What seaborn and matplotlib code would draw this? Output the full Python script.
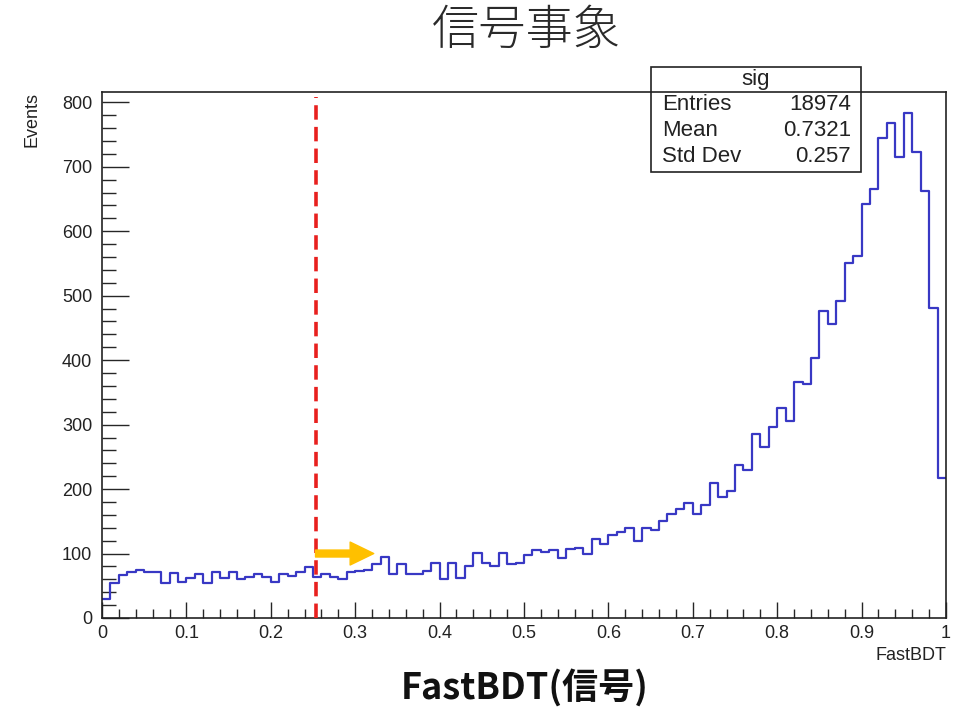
import numpy as np
import pandas as pd
import matplotlib
matplotlib.use("Agg")
import matplotlib.pyplot as plt
import seaborn as sns
from matplotlib.patches import Rectangle, FancyArrowPatch
from matplotlib.lines import Line2D

# ---------------- data ----------------
n_bins = 100
x_min, x_max = 0.0, 1.0
counts = [
    30, 55, 66, 71, 75, 71, 71, 55, 70, 56, 62, 68, 55, 71, 62, 71, 60, 63, 68, 64, 56, 68, 65, 71, 79,
    63, 68, 63, 60, 72, 73, 75, 83, 95, 68, 84, 68, 68, 73, 85, 60, 85, 62, 81, 101, 86, 81, 101, 83, 86,
    98, 106, 103, 106, 93, 107, 109, 100, 123, 115, 128, 134, 139, 120, 139, 137, 150, 161, 169, 178, 161, 175, 210, 188, 197,
    237, 229, 286, 266, 296, 326, 306, 366, 363, 403, 476, 456, 491, 550, 561, 642, 665, 744, 768, 715, 784, 723, 662, 481, 217,
]
x_ticks = [0, 0.1, 0.2, 0.3, 0.4, 0.5, 0.6, 0.7, 0.8, 0.9, 1.0]
x_ticklabels = ["0", "0.1", "0.2", "0.3", "0.4", "0.5", "0.6", "0.7", "0.8", "0.9", "1"]
y_ticks = [0, 100, 200, 300, 400, 500, 600, 700, 800]
y_ticklabels = ["0", "100", "200", "300", "400", "500", "600", "700", "800"]
title_text = "信号事象"
bottom_text = "FastBDT(信号)"
axis_x_title = "FastBDT"
axis_y_title = "Events"
stats_header = "sig"
stats_names = ["Entries", "Mean", "Std Dev"]
stats_values = ["18974", "0.7321", "0.257"]
cut_value = 0.254
arrow_start, arrow_end, arrow_level = 0.253, 0.322, 100

edges = np.linspace(x_min, x_max, n_bins + 1)
centers = (edges[:-1] + edges[1:]) / 2
df = pd.DataFrame({"FastBDT": centers, "Events": np.asarray(counts, dtype=float)})

# ---------------- style ----------------
sns.set_style("ticks")
plt.rcParams["font.family"] = ["Liberation Sans", "DejaVu Sans"]

W, H = 958, 708
fig = plt.figure(figsize=(W / 100, H / 100), dpi=100)
L, R, T, B = 102, 946, 92, 618
ax = fig.add_axes([L / W, 1 - B / H, (R - L) / W, (B - T) / H])

sns.histplot(data=df, x="FastBDT", weights="Events", bins=n_bins, binrange=(x_min, x_max),
             element="step", fill=False, color="#3838c4", linewidth=1.6, ax=ax)

ax.set_xlim(x_min, x_max)
ax.set_ylim(0, 816)
ax.set_xlabel("")
ax.set_ylabel("")

txtc = "#222222"
ax.set_xticks(x_ticks)
ax.set_xticklabels(x_ticklabels, fontsize=13, color=txtc)
ax.set_yticks(y_ticks)
ax.set_yticklabels(y_ticklabels, fontsize=13, color=txtc)
ax.set_xticks(np.arange(0, 1.0001, 0.02), minor=True)
ax.set_yticks(np.arange(0, 816, 20), minor=True)
ax.tick_params(axis="x", which="major", direction="in", length=11.5, width=1.0, pad=5, top=False)
ax.tick_params(axis="x", which="minor", direction="in", length=6.5, width=1.0, top=False)
ax.tick_params(axis="y", which="major", direction="in", length=19.5, width=1.0, pad=7, right=False)
ax.tick_params(axis="y", which="minor", direction="in", length=10, width=1.0, right=False)
for s in ax.spines.values():
    s.set_visible(True)
    s.set_linewidth(1.2)
    s.set_color("#222222")

# axis titles (ROOT style)
ax.text(-0.083, 1.0, axis_y_title, rotation=90, ha="center", va="top",
        fontsize=13, color=txtc, transform=ax.transAxes)
ax.text(1.0, -0.072, axis_x_title, ha="right", va="center",
        fontsize=13, color=txtc, transform=ax.transAxes)

# cut line
ax.axvline(cut_value, ymin=0, ymax=808 / 816, color="#e8201e", linewidth=2.6,
           dashes=(4, 2), zorder=5)

# arrow
arr = FancyArrowPatch((arrow_start, arrow_level), (arrow_end, arrow_level),
                      arrowstyle="simple,head_length=17,head_width=16.5,tail_width=5",
                      mutation_scale=1, color="#FFC000", shrinkA=0, shrinkB=0, zorder=6)
ax.add_patch(arr)

# stats box
bx0, bx1, by0, by1 = 651, 861, 67, 172
fig.add_artist(Rectangle((bx0 / W, 1 - by1 / H), (bx1 - bx0) / W, (by1 - by0) / H,
                         transform=fig.transFigure, facecolor="white", edgecolor="#222222",
                         linewidth=1.2, zorder=10))
fig.add_artist(Line2D([bx0 / W, bx1 / W], [1 - 92 / H, 1 - 92 / H], transform=fig.transFigure,
                      color="#222222", linewidth=1.2, zorder=11))
fig.text((bx0 + bx1) / 2 / W, 1 - 79 / H, stats_header, ha="center", va="center",
         fontsize=16, color=txtc, zorder=12)
for i, (nm, vl) in enumerate(zip(stats_names, stats_values)):
    yy = 1 - (105 + 26 * i) / H
    fig.text(662 / W, yy, nm, ha="left", va="center", fontsize=16, color=txtc, zorder=12)
    fig.text(851 / W, yy, vl, ha="right", va="center", fontsize=16, color=txtc, zorder=12)

# slide titles
cjk = ["Noto Sans CJK JP", "DejaVu Sans"]
fig.text(526 / W, 1 - 30 / H, title_text, ha="center", va="center", fontsize=34,
         family=cjk, fontweight="light", color="#2a2a2a")
fig.text(525 / W, 1 - 688 / H, bottom_text, ha="center", va="center", fontsize=26,
         family=cjk, fontweight="bold", color="#111111")

fig.savefig("out.png", dpi=100, facecolor="white")
